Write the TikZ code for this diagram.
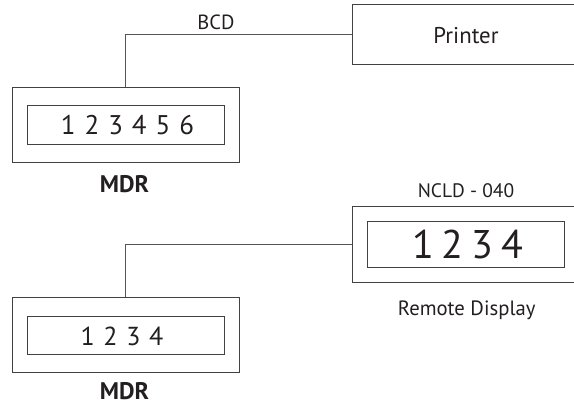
\documentclass[tikz,border=0pt]{standalone}
\usepackage{fontspec}
\setmainfont{PT Sans}
\definecolor{ink}{HTML}{231F20}
\definecolor{wire}{HTML}{555555}
\newcommand{\dg}{\hspace{0.2em}}
\begin{document}
\begin{tikzpicture}[x=1pt,y=-1pt,
  box/.style={draw=ink!85,line width=0.9pt,inner sep=0pt,text=ink},
  lbl/.style={inner sep=0pt,text=ink},
  wirel/.style={draw=wire,line width=0.8pt}]
\useasboundingbox (0,0) rectangle (574,405);
% top MDR
\node[box,minimum width=226.7pt,minimum height=75.4pt] (mdrA) at (125.65,125) {};
\node[box,minimum width=196.7pt,minimum height=38.3pt] (mdrAin) at (125.65,125) {};
\node[lbl,font=\fontsize{27}{30}\selectfont] (mdrAtxt) at (127.5,125) {1\,\,2\,\,3\,\,4\,\,5\,\,6};
\node[lbl,font=\bfseries\fontsize{24}{28}\selectfont] (mdrAlab) at (124.5,184.2) {MDR};
% printer
\node[box,minimum width=228pt,minimum height=60pt,anchor=west] (printer) at (352.3,34.2) {};
\node[lbl,anchor=base,font=\fontsize{22.8}{26}\selectfont] (printerlab) at (466,43.3) {Printer};
\node[lbl,anchor=base,font=\fontsize{20.5}{24}\selectfont] (bcd) at (216,29.3) {BCD};
\draw[wirel] (mdrA.north) |- (printer.west);
% remote display
\node[lbl,anchor=base,font=\fontsize{19.5}{22}\selectfont] (ncld) at (466,197) {NCLD - 040};
\node[box,minimum width=228pt,minimum height=75.6pt,anchor=west] (remote) at (352.3,244.5) {};
\node[box,minimum width=196.7pt,minimum height=45.6pt] (remotein) at (465.65,244.5) {};
\node[lbl,font=\fontsize{40}{44}\selectfont] (remotetxt) at (467.8,244.7) {1\dg2\dg3\dg4};
\node[lbl,anchor=base,font=\fontsize{20.7}{24}\selectfont] (remotelab) at (466.7,315) {Remote Display};
% bottom MDR
\node[box,minimum width=226.7pt,minimum height=75.4pt] (mdrB) at (125.65,335) {};
\node[box,minimum width=196.7pt,minimum height=38.3pt] (mdrBin) at (125.65,335.15) {};
\node[lbl,font=\fontsize{26}{30}\selectfont] (mdrBtxt) at (122,336.3) {1\,\,2\,\,3\,\,4};
\node[lbl,font=\bfseries\fontsize{24}{28}\selectfont] (mdrBlab) at (124.5,391.3) {MDR};
\draw[wirel] (mdrB.north) |- (remote.west);
\end{tikzpicture}
\end{document}
